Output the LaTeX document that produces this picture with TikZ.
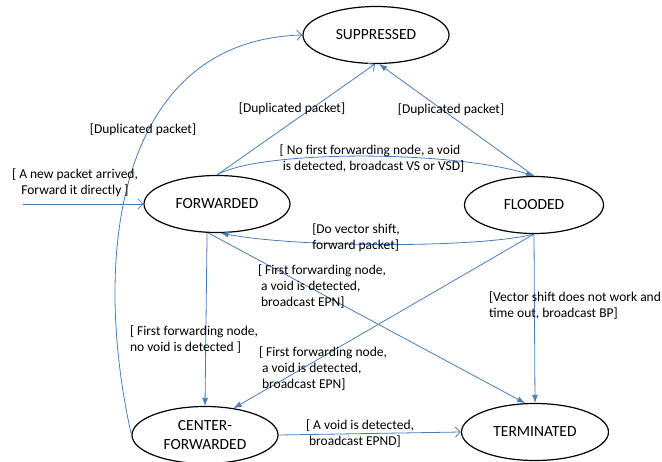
\documentclass[tikz,border=0pt]{standalone}
\usepackage{fontspec}
\setmainfont{Carlito}
\usetikzlibrary{shapes.geometric, arrows.meta}
\definecolor{linkblue}{RGB}{74,126,187}

\begin{document}
\begin{tikzpicture}[x=1pt, y=-1pt,
    state/.style={ellipse, draw, line width=1.2pt, minimum width=146pt, minimum height=57pt,
      inner sep=0pt, align=center, font=\fontsize{15.5}{19}\selectfont},
    cond/.style={inner sep=0pt, align=left, font=\fontsize{13.5}{16}\selectfont},
    flow/.style={draw=linkblue, line width=0.8pt, -{Latex[length=8pt,width=6pt]}},
    openflow/.style={draw=linkblue, line width=0.8pt, -{Straight Barb[length=5pt,width=10pt]}}]
  \useasboundingbox (0,0) rectangle (662,461);

  % states
  \node (suppressed) [state] at (376,35) {SUPPRESSED};
  \node (forwarded) [state] at (217,204) {FORWARDED};
  \node (flooded) [state, minimum width=139pt] at (534,205) {FLOODED};
  \node (centerfwd) [state] at (205,435) {CENTER-\\FORWARDED};
  \node (terminated) [state, minimum width=147pt] at (535,432) {TERMINATED};
  \coordinate (entry) at (23,204);

  % transitions
  \draw [openflow] (entry) -- (forwarded.west);
  \draw [openflow] (centerfwd.west) .. controls (90,250) and (120,40) .. (suppressed.west);
  \draw [openflow] (forwarded.north) -- (suppressed.-92);
  \draw [flow, {Latex[length=8pt,width=6pt]}-] (suppressed.-84) -- (flooded.north);
  \draw [flow] (forwarded.north) .. controls (260,150) and (450,150) .. (flooded.north);
  \draw [flow] (flooded.south) .. controls (480,248) and (300,248) .. (forwarded.-83);
  \draw [flow] (forwarded.-109) -- (centerfwd.north);
  \draw [flow] (forwarded.-107) -- (terminated.109);
  \draw [flow] (flooded.south) -- (centerfwd.43);
  \draw [flow] (flooded.south) -- (terminated.north);
  \draw [openflow] (centerfwd.east) -- (terminated.west);

  % conditions
  \node (lblentry) [cond, align=center] at (75,183) {[ A new packet arrived,\\Forward it directly ]};
  \node (lbldupcf) [cond] at (143,130) {[Duplicated packet]};
  \node (lbldupfw) [cond] at (292,109) {[Duplicated packet]};
  \node (lbldupfl) [cond] at (451,110) {[Duplicated packet]};
  \node (lblvoid) [cond] at (372,159) {[ No first forwarding node, a void\\\ is detected, broadcast VS or VSD]};
  \node (lblshift) [cond] at (356,238) {[Do vector shift,\\forward packet]};
  \node (lblnovoid) [cond] at (194,340) {[ First forwarding node,\\no void is detected ]};
  \node (lblepnfw) [cond] at (322,287) {[ First forwarding node,\\\ a void is detected,\\\ broadcast EPN]};
  \node (lblepnfl) [cond] at (323,369) {[ First forwarding node,\\\ a void is detected,\\\ broadcast EPN]};
  \node (lbltimeout) [cond] at (575,306) {[Vector shift does not work and\\time out, broadcast BP]};
  \node (lblepnd) [cond] at (360,434) {[ A void is detected,\\\ broadcast EPND]};
\end{tikzpicture}
\end{document}
